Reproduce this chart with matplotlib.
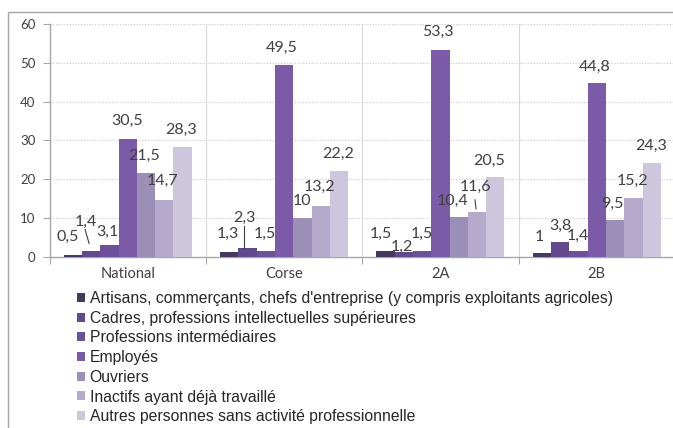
import numpy as np
import matplotlib.pyplot as plt
from matplotlib import font_manager
from matplotlib.patches import Rectangle

# data
categories = ["National", "Corse", "2A", "2B"]
series_names = [
    "Artisans, commerçants, chefs d'entreprise (y compris exploitants agricoles)",
    "Cadres, professions intellectuelles supérieures",
    "Professions intermédiaires",
    "Employés",
    "Ouvriers",
    "Inactifs ayant déjà travaillé",
    "Autres personnes sans activité professionnelle",
]
artisans = [0.5, 1.3, 1.5, 1.0]
cadres = [1.4, 2.3, 1.2, 3.8]
prof_inter = [3.1, 1.5, 1.5, 1.4]
employes = [30.5, 49.5, 53.3, 44.8]
ouvriers = [21.5, 10.0, 10.4, 9.5]
inactifs = [14.7, 13.2, 11.6, 15.2]
autres = [28.3, 22.2, 20.5, 24.3]
values = [artisans, cadres, prof_inter, employes, ouvriers, inactifs, autres]
y_ticks = [0, 10, 20, 30, 40, 50, 60]

colors = ["#47385f", "#62488c", "#6c519a", "#7b5aa8",
          "#9b8fb8", "#b5aacb", "#cdc6dc"]

# label offsets in pixels from the bar top (dx, dy), per series then category
label_offsets = [
    [(-5, 18), (-1, 18), (-5, 17), (-3, 16)],
    [(-5, 30), (-3, 30), (-2, 5), (0, 16)],
    [(-2, 13), (-1, 17), (0, 17), (-1, 15.5)],
    [(-1, 17.5), (-2, 17), (-3, 18), (-2, 16)],
    [(-2, 17.5), (0, 17), (-6, 15.5), (-3, 16)],
    [(-2, 19), (-1, 19), (-2, 25), (-1, 17)],
    [(-2, 17), (-1, 17), (-6, 16), (-1, 16.5)],
]
# leader lines: (series, category): (dx0, dy0, dx1, dy1) in pixels from bar top
leaders = {
    (1, 0): (-6, 22, -2, 8),
    (1, 1): (-3, 22, -3, 0),
    (5, 2): (-2, 12, -1, 3),
}

available = {f.name for f in font_manager.fontManager.ttflist}
num_font = "Lato" if "Lato" in available else "DejaVu Sans"
leg_font = "Liberation Sans Narrow" if "Liberation Sans Narrow" in available else "Liberation Sans"

W, H = 673, 428
fig = plt.figure(figsize=(W / 100, H / 100), dpi=100)

# outer chart frame
fig.patches.append(Rectangle((8 / W, -0.05), 1.1, 1 - 12 / H + 0.05,
                             transform=fig.transFigure, fill=False,
                             edgecolor="#a6a6a6", linewidth=1.0))

ax_left, ax_right = 49.5, 675.0
ax_top, ax_bottom = 24.0, 256.9
ax = fig.add_axes([ax_left / W, 1 - ax_bottom / H,
                   (ax_right - ax_left) / W, (ax_bottom - ax_top) / H])
ax.set_xlim(0, len(categories))
ax.set_ylim(0, 60)

px_x = (ax_right - ax_left) / len(categories)
px_y = (ax_bottom - ax_top) / 60

n = len(values)
bar_w = 18.3 / px_x
x = np.arange(len(categories)) + 0.5

text_color = "#404040"
for j, (vals, col) in enumerate(zip(values, colors)):
    xs = x + (j - (n - 1) / 2) * bar_w
    ax.bar(xs, vals, width=bar_w, color=col, label=series_names[j], zorder=3)
    for i, v in enumerate(vals):
        dx, dy = label_offsets[j][i]
        lab = ("%g" % v).replace(".", ",")
        ax.annotate(lab, (xs[i], v), xytext=(dx, dy), textcoords="offset pixels",
                    ha="center", va="center", fontsize=11.5, family=num_font,
                    color=text_color, zorder=5)
        if (j, i) in leaders:
            x0, y0, x1, y1 = leaders[(j, i)]
            ax.plot([xs[i] + x0 / px_x, xs[i] + x1 / px_x],
                    [v + y0 / px_y, v + y1 / px_y],
                    color=text_color, linewidth=0.8, zorder=5, clip_on=False)

# grid and axes
ax.set_yticks(y_ticks)
for t in y_ticks[1:]:
    ax.axhline(t, color="#c8c8c8", linewidth=0.8, linestyle=(0, (1, 1.5)), zorder=1)
for b in range(1, len(categories)):
    ax.axvline(b, color="#d9d9d9", linewidth=0.8, zorder=1)

ax.set_xticks(np.arange(len(categories) + 1))
ax.set_xticklabels([])
ax.set_xticks(x, minor=True)
ax.set_xticklabels(categories, minor=True)
ax.tick_params(axis="x", which="major", length=5, color="#a6a6a6", direction="out")
ax.tick_params(axis="x", which="minor", length=0, pad=7, labelsize=10.5,
               labelcolor=text_color)
ax.tick_params(axis="y", length=5, color="#a6a6a6", direction="out", pad=5,
               labelsize=9.5, labelcolor=text_color)
for lab in ax.get_xticklabels(minor=True) + ax.get_yticklabels():
    lab.set_family(num_font)

for s in ["top", "right"]:
    ax.spines[s].set_visible(False)
for s in ["left", "bottom"]:
    ax.spines[s].set_color("#a6a6a6")
    ax.spines[s].set_linewidth(1.0)
ax.set_facecolor("none")

handles, labels = ax.get_legend_handles_labels()
fig.legend(handles, labels, loc="upper left",
           bbox_to_anchor=(77 / W, 1 - 291 / H), frameon=False,
           prop={"family": leg_font, "size": 11.3},
           handlelength=0.5, handleheight=0.5, handletextpad=0.3,
           labelspacing=0.3, borderpad=0, borderaxespad=0, labelcolor="#262626")

fig.savefig("out.png", dpi=100)
